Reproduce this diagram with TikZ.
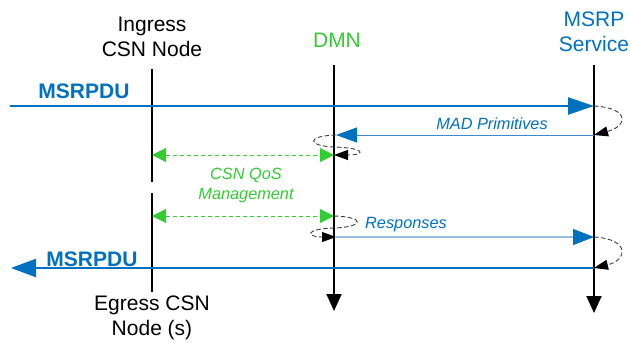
\documentclass[tikz,border=0pt]{standalone}
\usepackage{fontspec}
\setmainfont{Liberation Sans}
\usetikzlibrary{arrows.meta}
\definecolor{msrpblue}{RGB}{0,112,192}
\definecolor{madblue}{RGB}{60,135,205}
\definecolor{respblue}{RGB}{150,190,228}
\definecolor{qosgreen}{RGB}{51,204,51}
\definecolor{loopgray}{RGB}{60,60,60}
\tikzset{
  title/.style={align=center,inner sep=0pt,font=\fontsize{21}{24.5}\selectfont},
  msglabel/.style={inner sep=0pt,font=\fontsize{16.3}{19}\selectfont\itshape},
  pdulabel/.style={inner sep=0pt,text=msrpblue,font=\fontsize{21}{24}\selectfont\bfseries},
  lifeline/.style={line width=1.9pt,black},
  lifeend/.style={lifeline,-{Triangle[length=17pt,width=15pt]}},
  pdu/.style={line width=2.4pt,msrpblue},
  madmsg/.style={line width=1pt,madblue,-{Triangle[length=21pt,width=15pt,fill=msrpblue,color=msrpblue]}},
  respmsg/.style={line width=1.4pt,respblue,-{Triangle[length=21pt,width=16pt,fill=msrpblue,color=msrpblue]}},
  qos/.style={line width=1pt,qosgreen,dashed,dash pattern=on 4pt off 3pt,
    {Triangle[length=14pt,width=14pt,sep=0pt]}-{Triangle[length=14pt,width=14pt]}},
  loopback/.style={line width=0.9pt,loopgray,dash pattern=on 4.5pt off 2.5pt,
    -{Triangle[length=14pt,width=10pt,fill=black,color=black]}}
}
\begin{document}
\begin{tikzpicture}[x=1pt,y=-1pt]
\useasboundingbox (0,0) rectangle (630,343);

% participants
\node[title] (ingress) at (152,37) {Ingress\\CSN Node};
\node[title,text=qosgreen] (dmn) at (337,40) {DMN};
\node[title,text=msrpblue] (msrp) at (594,32) {MSRP\\Service};
\node[title] (egress) at (152,318) {Egress CSN\\Node (s)};

% lifeline anchor points
\coordinate (ingTop) at (152,69);
\coordinate (ingGapA) at (152,182);
\coordinate (ingGapB) at (152,193);
\coordinate (ingBot) at (152,292);
\coordinate (dmnTop) at (334,65);
\coordinate (dmnBot) at (334,311);
\coordinate (srvTop) at (594,65);
\coordinate (srvBot) at (594,313);

% lifelines
\draw[lifeline] (ingTop) -- (ingGapA);
\draw[lifeline] (ingGapB) -- (ingBot);
\draw[lifeend] (dmnTop) -- (dmnBot);
\draw[lifeend] (srvTop) -- (srvBot);

% message end points
\coordinate (pduInL) at (10,106);
\coordinate (pduInR) at (594,106);
\coordinate (madR) at (594,135);
\coordinate (madL) at (336,135);
\coordinate (qosAL) at (152,155);
\coordinate (qosAR) at (334,155);
\coordinate (qosBL) at (152,216);
\coordinate (qosBR) at (334,216);
\coordinate (respL) at (336,237);
\coordinate (respR) at (594,237);
\coordinate (pduOutR) at (594,268);
\coordinate (pduOutL) at (11,268);

% MSRPDU in
\draw[pdu,-{Triangle[length=26pt,width=17pt]}] (pduInL) -- (pduInR);
\node[pdulabel] (pduIn) at (84,91) {MSRPDU};

% MAD primitives
\draw[madmsg] (madR) -- (madL);
\node[msglabel,text=msrpblue] (madtxt) at (492,124) {MAD Primitives};

% CSN QoS management exchanges
\draw[qos] (qosAL) -- (qosAR);
\draw[qos] (qosBL) -- (qosBR);
\node[msglabel,text=qosgreen,align=center,font=\fontsize{16.3}{20}\selectfont\itshape] (qostxt) at (246,185) {CSN QoS\\Management};

% Responses
\draw[respmsg] (respL) -- (respR);
\node[msglabel,text=msrpblue] (resptxt) at (406,225) {Responses};

% MSRPDU out
\draw[pdu,-{Triangle[length=25pt,width=18pt]}] (pduOutR) -- (pduOutL);
\node[pdulabel] (pduOut) at (92,259) {MSRPDU};

% processing loops
\draw[loopback] (pduInR) .. controls (630,108) and (628,126) .. (madR);
\draw[loopback] (madL) .. controls (305,136) and (308,146) .. (334,147)
  .. controls (366,148) and (366,155) .. (qosAR);
\draw[loopback] (qosBR) .. controls (366,217) and (364,227) .. (334,228)
  .. controls (304,229) and (306,237) .. (respL);
\draw[loopback] (respR) .. controls (630,239) and (628,260) .. (pduOutR);
\end{tikzpicture}
\end{document}
